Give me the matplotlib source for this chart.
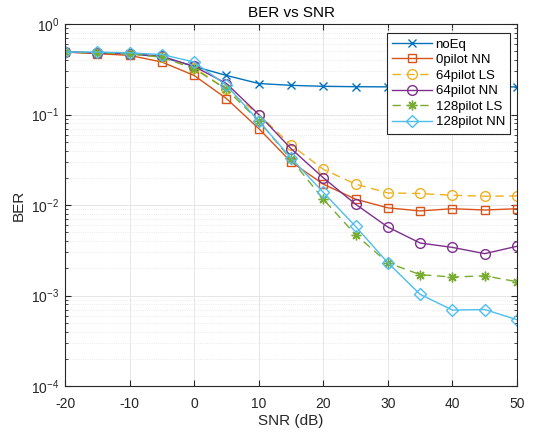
import numpy as np
import matplotlib.pyplot as plt
from matplotlib.ticker import LogLocator, NullFormatter

plt.rcParams['font.family'] = ['Liberation Sans', 'DejaVu Sans']
plt.rcParams['axes.unicode_minus'] = False

snr = [-20, -15, -10, -5, 0, 5, 10, 15, 20, 25, 30, 35, 40, 45, 50]

ber_noeq = [0.49, 0.48, 0.47, 0.43, 0.34, 0.27, 0.22, 0.21, 0.205, 0.203, 0.202, 0.202, 0.202, 0.202, 0.202]
ber_0nn = [0.49, 0.47, 0.45, 0.38, 0.27, 0.15, 0.070, 0.030, 0.017, 0.0116, 0.0093, 0.0086, 0.0091, 0.0088, 0.0091]
ber_64ls = [0.49, 0.48, 0.47, 0.43, 0.33, 0.19, 0.10, 0.046, 0.0248, 0.017, 0.0136, 0.0134, 0.0128, 0.0125, 0.0126]
ber_64nn = [0.49, 0.48, 0.47, 0.44, 0.34, 0.22, 0.10, 0.042, 0.020, 0.0102, 0.0057, 0.0038, 0.0034, 0.0029, 0.0035]
ber_128ls = [0.49, 0.48, 0.47, 0.43, 0.32, 0.19, 0.085, 0.032, 0.0116, 0.0047, 0.0023, 0.0017, 0.0016, 0.00165, 0.00142]
ber_128nn = [0.49, 0.49, 0.48, 0.46, 0.38, 0.21, 0.085, 0.033, 0.0138, 0.0058, 0.0023, 0.00103, 0.00069, 0.0007, 0.00054]

fig = plt.figure(figsize=(5.34, 4.34), dpi=100)
ax = fig.add_axes([65/534, 1 - 386/434, (517-65)/534, (386-24)/434])

ax.semilogy(snr, ber_noeq, '-x', color='#0072BD', lw=1, ms=6, mfc='none', label='noEq')
ax.semilogy(snr, ber_0nn, '-s', color='#D95319', lw=1, ms=6, mfc='none', label='0pilot NN')
ax.semilogy(snr, ber_64ls, '--o', color='#EDB120', lw=1, ms=7, mfc='none', dashes=(6, 4), label='64pilot LS')
ax.semilogy(snr, ber_64nn, '-o', color='#7E2F8E', lw=1, ms=7, mfc='none', label='64pilot NN')
ax.semilogy(snr, ber_128ls, '--', marker=(8, 2, 0), color='#77AC30', lw=1, ms=7, mew=1,
            dashes=(6, 4), label='128pilot LS')
ax.semilogy(snr, ber_128nn, '-D', color='#4DBEEE', lw=1, ms=6, mfc='none', label='128pilot NN')

ax.set_xlim(-20, 50)
ax.set_ylim(1e-4, 1)
ax.set_xticks(range(-20, 51, 10))
ax.yaxis.set_minor_locator(LogLocator(base=10, subs=np.arange(2, 10), numticks=20))
ax.yaxis.set_minor_formatter(NullFormatter())
ax.tick_params(which='both', direction='in', top=True, right=True, labelsize=10, colors='#262626')
ax.tick_params(which='major', length=4)
ax.tick_params(which='minor', length=2)
ax.tick_params(axis='x', pad=8)
ax.tick_params(axis='y', pad=4)
ax.grid(True, which='major', color='#e6e6e6', lw=0.7)
ax.grid(True, which='minor', axis='y', color='#e3e3e3', lw=0.6, ls=':')
ax.set_axisbelow(True)
for s in ax.spines.values():
    s.set_color('#262626')
    s.set_linewidth(0.8)

ax.set_xlabel('SNR (dB)', fontsize=11, color='#262626', labelpad=2)
ax.set_ylabel('BER', fontsize=11, color='#262626')
ax.set_title('BER vs SNR', fontsize=11, color='#000000', pad=5)

leg = ax.legend(loc='upper right', bbox_to_anchor=(0.985, 0.975), fontsize=9.5, fancybox=False,
                framealpha=1, edgecolor='#262626', handlelength=3, borderpad=0.4,
                labelspacing=0.25, handletextpad=0.3, borderaxespad=0)
leg.get_frame().set_linewidth(0.8)

fig.savefig('out.png', dpi=100)
